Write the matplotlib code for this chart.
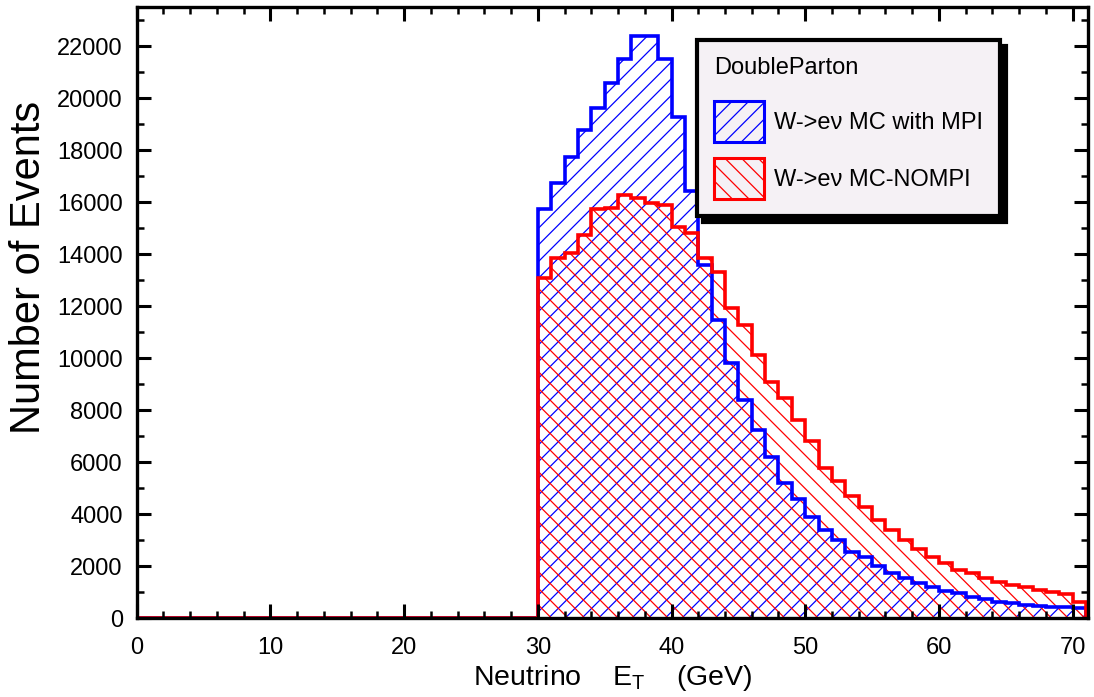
import numpy as np
import matplotlib
matplotlib.use('Agg')
import matplotlib.pyplot as plt
import matplotlib.patches as mpatches
from matplotlib.ticker import MultipleLocator

plt.rcParams['font.family'] = ['Liberation Sans', 'DejaVu Sans']
plt.rcParams['mathtext.default'] = 'regular'
plt.rcParams['hatch.linewidth'] = 0.9

# bin edges in GeV, 1 GeV bins from 0 to 71 (bins below 30 are empty)
edges = np.arange(0, 72)
first_bin = 30

# W->e nu MC with MPI, bins 30..70
mpi = [15740, 16720, 17750, 18770, 19610, 20590, 21490, 22390, 22390, 21490,
       19290, 16430, 13600, 11470, 9810, 8400, 7260, 6210, 5210, 4580,
       3910, 3400, 3020, 2570, 2380, 2030, 1740, 1540, 1350, 1220,
       1070, 970, 840, 740, 650, 580, 520, 480, 455, 430,
       390]

# W->e nu MC without MPI, bins 30..70
nompi = [13100, 13840, 14040, 14740, 15730, 15760, 16280, 16150, 15960, 15890,
         15060, 14800, 13840, 13330, 11920, 11280, 10130, 9100, 8460, 7610,
         6830, 5800, 5290, 4690, 4300, 3790, 3400, 3020, 2660, 2380,
         2120, 1860, 1760, 1540, 1410, 1290, 1220, 1100, 1030, 940,
         650]

labels = ['W->e\u03bd MC with MPI', 'W->e\u03bd MC-NOMPI']
colors = ['#0000ff', '#ff0000']
hatches = ['//', '\\\\']


def full_hist(vals):
    return np.concatenate([np.zeros(first_bin), np.array(vals, dtype=float)])


def main():
    fig = plt.figure(figsize=(10.94, 6.97), dpi=100)
    ax = fig.add_axes([0.12495, 0.11263, 0.86957, 0.87661])

    h_mpi = full_hist(mpi)
    h_nompi = full_hist(nompi)

    # hatched fills
    for h, c, ht in [(h_mpi, colors[0], hatches[0]), (h_nompi, colors[1], hatches[1])]:
        ax.stairs(h, edges, fill=True, facecolor='none', edgecolor=c,
                  hatch=ht, linewidth=0)
    # outlines
    for h, c in [(h_mpi, colors[0]), (h_nompi, colors[1])]:
        ax.stairs(h, edges, fill=False, color=c, linewidth=2.6, baseline=0)

    ax.set_xlim(0, 71.15)
    ax.set_ylim(0, 23480)
    ax.set_yticks(np.arange(0, 22001, 2000))
    ax.set_xticks(np.arange(0, 71, 10))
    ax.xaxis.set_minor_locator(MultipleLocator(2))
    ax.yaxis.set_minor_locator(MultipleLocator(1000))

    for sp in ax.spines.values():
        sp.set_linewidth(2.4)
    ax.tick_params(which='both', direction='in', top=True, right=True,
                   labelsize=17, colors='black')
    ax.tick_params(which='major', length=10, width=2.2)
    ax.tick_params(which='minor', length=5, width=1.8)
    ax.tick_params(axis='y', pad=10)
    ax.tick_params(axis='x', pad=13)

    ax.set_xlabel('Neutrino    E$_T$    (GeV)', fontsize=20.5, va='center')
    ax.xaxis.set_label_coords(0.5, -0.098)
    ax.set_ylabel('Number of Events', fontsize=30, va='center')
    ax.yaxis.set_label_coords(-0.113, 0.574)

    handles = [mpatches.Patch(facecolor='none', edgecolor=c, hatch=ht, linewidth=2.2)
               for c, ht in zip(colors, hatches)]
    leg = ax.legend(handles, labels, title='DoubleParton', loc='upper left',
                    bbox_to_anchor=(697 / 1094, 1 - 40 / 697),
                    bbox_transform=fig.transFigure, borderaxespad=0,
                    fontsize=17, title_fontsize=17, alignment='left',
                    handlelength=2.1, handleheight=2.3, handletextpad=0.45,
                    labelspacing=0.68, borderpad=0.72, fancybox=False,
                    framealpha=1, facecolor='#f5f1f5', edgecolor='black',
                    shadow={'color': 'black', 'alpha': 1, 'ox': 4, 'oy': -4})
    leg.get_frame().set_linewidth(3)
    leg._legend_box.sep = 16

    fig.savefig('out.png', dpi=100)


if __name__ == '__main__':
    main()
